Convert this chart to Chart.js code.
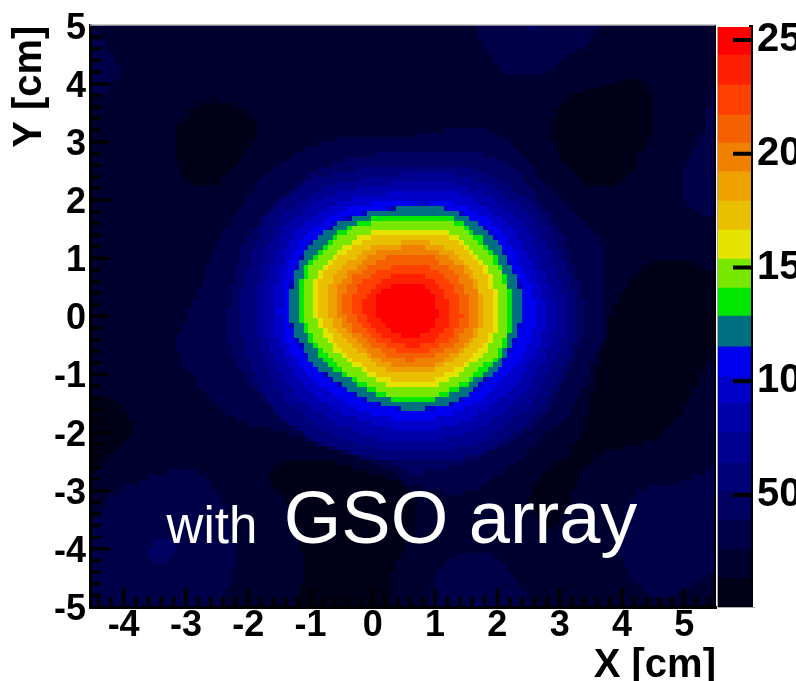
<!DOCTYPE html>
<html>
<head>
<meta charset="utf-8">
<script src="https://cdn.jsdelivr.net/npm/chart.js@4/dist/chart.umd.js"></script>
<style>
	html, body { margin: 0; padding: 0; background: #fff; overflow: hidden; }
	canvas { position: absolute; }
	#heat { left: 90px; top: 25px; image-rendering: pixelated; }
	#frame { left: 0; top: 0; }
	#zbar { left: 700px; top: 0; }
</style>
</head>
<body>
<canvas id="heat" width="626" height="582"></canvas>
<canvas id="frame" width="796" height="681"></canvas>
<canvas id="zbar" width="96" height="681"></canvas>
<script>
// colour levels, lowest first, and where each one starts on the z axis
const levelColors = ['#000018', '#000030', '#000048', '#000060', '#000078', '#000090', '#0000a8', '#0000c8', '#0000f0', '#007080',
	'#00e800', '#78e800', '#e4e400', '#e8c000', '#eea000', '#f08000', '#f56000', '#ff4000', '#ff2000', '#ff0000'];
const levelEdges = [0.8, 13.5, 26.3, 39.0, 51.3, 64.1, 77.3, 90.4, 101.9, 115.1, 128.7, 141.0, 153.7, 166.5, 179.2, 192.0, 204.7, 217.0, 230.2, 243.4, 255.7];

const xTicks = [-4, -3, -2, -1, 0, 1, 2, 3, 4, 5];
const yTicks = [-5, -4, -3, -2, -1, 0, 1, 2, 3, 4, 5];
const zTicks = [50, 100, 150, 200, 250];

// level contours, in cm
const bgX = [-4.54, 5.51, 5.51, -4.54];
const bgY = [5, 5, -5, -5];

const dark1X = [-2.57, -2.13, -1.89, -1.89, -2.13, -2.34, -2.50, -2.89, -3.05, -3.13, -3.13, -2.94];
const dark1Y = [3.71, 3.59, 3.32, 3.08, 2.73, 2.51, 2.25, 2.25, 2.51, 2.73, 3.20, 3.57];
const dark2X = [4.17, 4.37, 4.48, 4.48, 4.29, 4.17, 3.92, 3.68, 3.37, 3.11, 2.92, 2.91, 3.11, 3.52, 3.96];
const dark2Y = [4.11, 4.00, 3.80, 3.16, 2.80, 2.51, 2.25, 2.25, 2.34, 2.63, 2.97, 3.42, 3.71, 3.93, 4.05];
const dark3X = [5.51, 5.09, 4.61, 4.33, 4.08, 3.85, 3.76, 3.61, 3.45, 3.16, 2.84, 2.52, 2.52, 2.76, 2.95, 3.16, 3.27, 3.60, 4.17, 4.65, 5.04, 5.25, 5.51];
const dark3Y = [0.76, 0.96, 1.00, 0.82, 0.50, 0.10, -0.24, -0.84, -1.67, -2.30, -2.59, -2.99, -3.25, -3.52, -3.56, -3.11, -2.77, -2.35, -2.18, -2.01, -1.44, -1.05, -0.58];
const dark4X = [-4.54, -4.22, -3.98, -3.85, -3.85, -4.22, -4.38, -4.54];
const dark4Y = [-1.31, -1.36, -1.56, -1.79, -2.01, -2.35, -2.53, -2.70];
const dark5X = [-1.62, -1.33, -0.69, -0.05, 0.51, 0.66, 0.66, 0.43, 0.27, 0.22, -1.12, -1.12, -1.25, -1.38, -1.62];
const dark5Y = [-2.53, -2.44, -2.44, -2.65, -2.85, -3.16, -3.68, -4.07, -4.54, -5, -5, -4.19, -3.51, -3.16, -2.87];

const lowLeftX = [-4.54, -4.38, -4.22, -3.85, -3.47, -3.05, -2.73, -2.49, -2.25, -2.18, -2.30, -2.41, -4.54];
const lowLeftY = [-3.51, -3.28, -3.04, -2.82, -2.68, -2.59, -2.68, -2.99, -3.63, -4.07, -4.48, -5, -5];
const lowLeftCoreX = [-3.50, -3.23, -3.15, -3.23, -3.50, -3.61];
const lowLeftCoreY = [-3.73, -3.73, -3.93, -4.12, -4.16, -3.99];
const lowMidX = [0.96, 1.19, 1.40, 1.88, 2.15, 2.41, 2.57, 0.91];
const lowMidY = [-4.48, -4.14, -4.02, -4.02, -4.24, -4.66, -5, -5];
const lowMidCoreX = [1.61, 1.83, 1.83, 1.61];
const lowMidCoreY = [-4.83, -4.83, -5, -5];
const lowRightX = [5.51, 5.20, 4.82, 4.40, 4.08, 3.96, 4.24, 4.56, 4.98, 5.51];
const lowRightY = [-2.51, -2.70, -2.85, -2.90, -3.16, -3.97, -4.54, -4.76, -4.67, -4.31];
const topMidX = [1.64, 1.77, 2.04, 2.15, 2.73, 3.05, 3.37, 3.68];
const topMidY = [5, 4.62, 4.28, 4.18, 4.18, 4.40, 4.60, 5];
const topMidCoreX = [2.49, 2.65, 2.65, 2.49];
const topMidCoreY = [5, 5, 4.88, 4.88];
const topLeftX = [-4.54, -4.38, -4.27, -4.17, -4.06, -4.17, -4.22, -4.54];
const topLeftY = [4.95, 4.86, 4.62, 4.45, 4.19, 4.05, 3.88, 3.85];
const rightX = [5.51, 5.41, 5.38, 5.25, 5.01, 4.93, 5.01, 5.25, 5.51];
const rightY = [3.93, 3.93, 3.32, 3.08, 2.63, 2.22, 1.99, 1.79, 1.70];

const level2X = [-0.37, 0.39, 1.35, 1.77, 2.09, 2.41, 2.73, 3.05, 3.37, 3.68, 3.69, 3.76, 3.60, 3.43, 3.16, 2.79, 2.36, 1.88, 1.35, 0.64, 0.27, -0.16, -0.80, -1.38, -2.02, -2.46, -2.78, -3.05, -3.13, -3.05, -2.94, -2.74, -2.62, -2.46, -2.25, -1.97, -1.77, -1.44, -1.17, -0.80];
const level2Y = [3.08, 3.09, 3.23, 3.23, 3.11, 2.80, 2.39, 1.99, 1.65, 1.31, 0.50, -0.19, -0.58, -1.05, -1.62, -2.01, -2.42, -2.77, -2.99, -2.85, -2.59, -2.42, -2.18, -1.96, -1.79, -1.56, -1.15, -0.76, -0.36, -0.19, 0.15, 0.57, 0.96, 1.36, 1.70, 2.11, 2.42, 2.65, 2.85, 2.99];
const level3X = [0.43, 1.67, 2.20, 2.63, 3.05, 3.27, 3.43, 3.27, 3.05, 2.79, 2.36, 1.88, 1.28, 0.64, 0.27, -0.26, -0.80, -1.38, -2.02, -2.25, -2.34, -2.30, -2.18, -2.09, -1.65, -1.38, -1.06, -0.69, -0.37];
const level3Y = [2.85, 2.82, 2.63, 2.11, 1.43, 0.74, -0.07, -0.58, -1.10, -1.62, -2.01, -2.30, -2.53, -2.65, -2.46, -2.25, -2.01, -1.74, -1.05, -0.64, -0.27, 0.40, 0.84, 1.25, 1.87, 2.13, 2.42, 2.63, 2.73];
const level4X = [0.59, 1.40, 1.96, 2.41, 2.76, 3.19, 3.27, 3.13, 2.65, 1.86, 1.35, 0.75, 0.03, -0.93, -1.61, -2.04, -2.10, -2.07, -1.72, -1.36, -0.85, -0.13];
const level4Y = [2.63, 2.59, 2.41, 2.08, 1.68, 0.58, -0.10, -0.69, -1.62, -2.25, -2.41, -2.44, -2.41, -2.08, -1.53, -0.58, 0, 0.62, 1.68, 2.08, 2.42, 2.59];
const level5X = [0.59, 1.32, 1.83, 2.26, 2.60, 3.02, 3.11, 2.99, 2.54, 1.80, 1.32, 0.75, 0.11, -0.77, -1.41, -1.81, -1.88, -1.86, -1.56, -1.24, -0.77, -0.05];
const level5Y = [2.47, 2.46, 2.29, 1.99, 1.62, 0.58, -0.07, -0.58, -1.44, -2.06, -2.22, -2.27, -2.23, -1.91, -1.37, -0.52, 0, 0.58, 1.58, 1.92, 2.23, 2.42];
const level6X = [0.59, 1.24, 1.69, 2.12, 2.44, 2.84, 2.95, 2.84, 2.42, 1.72, 1.27, 0.75, 0.19, -0.64, -1.27, -1.67, -1.73, -1.72, -1.43, -1.12, -0.69, -0.05];
const level6Y = [2.32, 2.30, 2.16, 1.89, 1.55, 0.58, -0.03, -0.50, -1.29, -1.87, -2.03, -2.10, -2.06, -1.75, -1.25, -0.46, 0, 0.53, 1.48, 1.80, 2.10, 2.27];
const level7X = [0.59, 1.16, 1.56, 1.97, 2.30, 2.68, 2.79, 2.70, 2.31, 1.65, 1.24, 0.75, 0.27, -0.50, -1.12, -1.52, -1.59, -1.57, -1.30, -1.01, -0.61, -0.05];
const level7Y = [2.17, 2.17, 2.05, 1.79, 1.44, 0.58, 0.02, -0.41, -1.13, -1.68, -1.86, -1.92, -1.89, -1.62, -1.13, -0.41, 0, 0.48, 1.37, 1.68, 1.96, 2.11];
const level8X = [0.59, 1.08, 1.43, 1.85, 2.17, 2.50, 2.62, 2.54, 2.20, 1.59, 1.20, 0.75, 0.35, -0.37, -0.98, -1.40, -1.46, -1.44, -1.20, -0.91, -0.56, -0.05];
const level8Y = [2.03, 2.03, 1.92, 1.68, 1.34, 0.62, 0.10, -0.33, -0.96, -1.49, -1.68, -1.75, -1.74, -1.48, -1.01, -0.38, 0, 0.45, 1.27, 1.56, 1.82, 1.96];
const level9X = [0.55, 1.00, 1.32, 1.72, 2.04, 2.33, 2.41, 2.33, 2.09, 1.56, 1.19, 0.75, 0.48, -0.24, -0.85, -1.25, -1.33, -1.33, -1.11, -0.80, -0.48, 0];
const level9Y = [1.92, 1.92, 1.82, 1.60, 1.25, 0.65, 0.19, -0.19, -0.76, -1.27, -1.49, -1.56, -1.56, -1.32, -0.89, -0.29, 0, 0.45, 1.13, 1.43, 1.68, 1.82];
const level10X = [0.59, 1.03, 1.36, 1.65, 1.93, 2.10, 2.20, 2.25, 2.20, 2.05, 1.85, 1.49, 1.08, 0.67, 0.19, -0.18, -0.79, -1.12, -1.17, -1.16, -1.01, -0.72, -0.40, 0.05];
const level10Y = [1.77, 1.75, 1.67, 1.46, 1.15, 0.86, 0.53, 0.10, -0.27, -0.62, -0.88, -1.15, -1.37, -1.43, -1.36, -1.17, -0.72, -0.15, 0.19, 0.62, 1.01, 1.31, 1.56, 1.72];
const level11X = [0.59, 1.03, 1.33, 1.62, 1.88, 2.04, 2.15, 2.20, 2.15, 2.01, 1.78, 1.46, 1.04, 0.67, 0.22, -0.14, -0.72, -1.06, -1.11, -1.09, -0.95, -0.66, -0.35, 0.08];
const level11Y = [1.70, 1.68, 1.62, 1.39, 1.10, 0.82, 0.50, 0.10, -0.24, -0.58, -0.82, -1.08, -1.31, -1.36, -1.29, -1.12, -0.67, -0.12, 0.19, 0.58, 0.96, 1.25, 1.51, 1.67];
const level12X = [0.59, 0.96, 1.27, 1.52, 1.75, 1.89, 1.99, 2.04, 1.99, 1.86, 1.67, 1.38, 1.01, 0.67, 0.27, -0.06, -0.59, -0.91, -0.96, -0.95, -0.82, -0.56, -0.27, 0.14];
const level12Y = [1.53, 1.51, 1.44, 1.25, 1.00, 0.74, 0.43, 0.07, -0.21, -0.48, -0.72, -0.96, -1.15, -1.20, -1.15, -0.98, -0.57, -0.07, 0.19, 0.53, 0.88, 1.13, 1.36, 1.49];
const level13X = [0.59, 0.93, 1.22, 1.48, 1.69, 1.83, 1.91, 1.96, 1.91, 1.80, 1.61, 1.33, 0.98, 0.67, 0.30, -0.02, -0.51, -0.83, -0.88, -0.87, -0.74, -0.50, -0.21, 0.18];
const level13Y = [1.46, 1.44, 1.37, 1.19, 0.95, 0.70, 0.40, 0.07, -0.17, -0.43, -0.65, -0.89, -1.07, -1.12, -1.07, -0.91, -0.52, -0.03, 0.19, 0.50, 0.82, 1.07, 1.29, 1.43];
const level14X = [0.59, 0.91, 1.14, 1.36, 1.56, 1.69, 1.75, 1.78, 1.73, 1.62, 1.44, 1.22, 0.91, 0.63, 0.32, 0.05, -0.40, -0.69, -0.72, -0.71, -0.59, -0.37, -0.11, 0.24];
const level14Y = [1.31, 1.29, 1.20, 1.05, 0.84, 0.62, 0.34, 0.07, -0.17, -0.38, -0.58, -0.77, -0.91, -0.96, -0.93, -0.77, -0.41, 0, 0.22, 0.48, 0.76, 0.98, 1.17, 1.27];
const level15X = [0.59, 0.88, 1.11, 1.32, 1.49, 1.62, 1.69, 1.72, 1.67, 1.56, 1.40, 1.17, 0.88, 0.63, 0.35, 0.11, -0.30, -0.55, -0.58, -0.56, -0.45, -0.24, -0.02, 0.30];
const level15Y = [1.22, 1.20, 1.13, 0.98, 0.79, 0.57, 0.31, 0.07, -0.15, -0.34, -0.53, -0.70, -0.84, -0.88, -0.84, -0.70, -0.36, 0.03, 0.22, 0.45, 0.70, 0.91, 1.08, 1.19];
const level16X = [0.59, 0.83, 1.04, 1.22, 1.38, 1.48, 1.54, 1.56, 1.51, 1.41, 1.27, 1.08, 0.83, 0.59, 0.37, 0.16, -0.03, -0.21, -0.37, -0.45, -0.48, -0.45, -0.35, -0.16, 0.05, 0.34];
const level16Y = [1.08, 1.07, 1.00, 0.86, 0.69, 0.48, 0.27, 0.05, -0.14, -0.31, -0.46, -0.60, -0.69, -0.72, -0.69, -0.58, -0.45, -0.29, -0.12, 0.05, 0.22, 0.45, 0.65, 0.82, 0.98, 1.05];
const level17X = [0.59, 0.80, 0.98, 1.14, 1.27, 1.36, 1.41, 1.43, 1.38, 1.28, 1.16, 0.98, 0.79, 0.59, 0.39, 0.21, 0.03, -0.13, -0.24, -0.30, -0.32, -0.29, -0.19, -0.03, 0.14, 0.37];
const level17Y = [0.91, 0.89, 0.82, 0.70, 0.55, 0.38, 0.19, 0.02, -0.14, -0.29, -0.41, -0.50, -0.57, -0.58, -0.55, -0.46, -0.36, -0.22, -0.07, 0.09, 0.24, 0.43, 0.58, 0.72, 0.82, 0.89];
const level18X = [0.59, 0.79, 0.93, 1.04, 1.16, 1.22, 1.25, 1.25, 1.20, 1.11, 0.98, 0.82, 0.63, 0.43, 0.27, 0.11, -0.02, -0.11, -0.16, -0.13, -0.03, 0.11, 0.30];
const level18Y = [0.74, 0.72, 0.65, 0.55, 0.43, 0.27, 0.10, -0.03, -0.17, -0.29, -0.38, -0.45, -0.48, -0.45, -0.38, -0.27, -0.14, 0, 0.15, 0.34, 0.48, 0.60, 0.70];
const level19X = [0.47, 0.75, 0.88, 1.00, 1.04, 1.09, 1.01, 0.87, 0.69, 0.51, 0.30, 0.16, 0.06, 0.06, 0.14, 0.30];
const level19Y = [0.58, 0.58, 0.48, 0.33, 0.17, 0.10, -0.07, -0.24, -0.33, -0.33, -0.21, -0.05, 0.07, 0.27, 0.46, 0.55];

// painted in this order, later ones cover earlier ones
const contours = [
	[1, bgX, bgY],
	[0, dark1X, dark1Y], [0, dark2X, dark2Y], [0, dark3X, dark3Y], [0, dark4X, dark4Y], [0, dark5X, dark5Y],
	[2, lowLeftX, lowLeftY], [3, lowLeftCoreX, lowLeftCoreY],
	[2, lowMidX, lowMidY], [3, lowMidCoreX, lowMidCoreY],
	[2, lowRightX, lowRightY],
	[2, topMidX, topMidY], [3, topMidCoreX, topMidCoreY],
	[2, topLeftX, topLeftY], [2, rightX, rightY],
	[2, level2X, level2Y], [3, level3X, level3Y], [4, level4X, level4Y], [5, level5X, level5Y],
	[6, level6X, level6Y], [7, level7X, level7Y], [8, level8X, level8Y], [9, level9X, level9Y],
	[10, level10X, level10Y], [11, level11X, level11Y], [12, level12X, level12Y], [13, level13X, level13Y],
	[14, level14X, level14Y], [15, level15X, level15Y], [16, level16X, level16Y], [17, level17X, level17Y],
	[18, level18X, level18Y], [19, level19X, level19Y],
];

const xRange = [-4.54, 5.51];
const yRange = [-5, 5];
const boldFont = { family: 'Liberation Sans', size: 36, weight: 'bold' };
const titleFont = { family: 'Liberation Sans', size: 40, weight: 'bold' };

Chart.defaults.animation = false;
Chart.defaults.responsive = false;
Chart.defaults.plugins.legend.display = false;
Chart.defaults.plugins.tooltip.enabled = false;

// fill edges get anti-aliased, put every bin back on one of the palette colours
const snapToLevels = {
	id: 'snapToLevels',
	afterDraw(chart) {
		const palette = levelColors.map(c => [1, 3, 5].map(i => parseInt(c.substr(i, 2), 16)));
		const img = chart.ctx.getImageData(0, 0, chart.canvas.width, chart.canvas.height);
		const d = img.data;
		for (let i = 0; i < d.length; i += 4) {
			let best = palette[0], bestDist = Infinity;
			palette.forEach(p => {
				const dist = (p[0] - d[i]) ** 2 + (p[1] - d[i + 1]) ** 2 + (p[2] - d[i + 2]) ** 2;
				if (dist < bestDist) { bestDist = dist; best = p; }
			});
			d[i] = best[0]; d[i + 1] = best[1]; d[i + 2] = best[2]; d[i + 3] = 255;
		}
		chart.ctx.putImageData(img, 0, 0);
	}
};

// the map itself, drawn small and blown up so it keeps the histogram's square bins
new Chart(document.getElementById('heat'), {
	type: 'scatter',
	data: {
		datasets: contours.map((c, i) => ({
			data: c[1].map((x, j) => ({ x: x, y: c[2][j] })),
			order: -i, // chart.js paints high order first
			showLine: true,
			fill: 'shape',
			tension: 0.3,
			borderWidth: 0,
			pointRadius: 0,
			backgroundColor: levelColors[c[0]],
		}))
	},
	plugins: [snapToLevels],
	options: {
		devicePixelRatio: 0.206,
		scales: {
			x: { display: false, min: xRange[0], max: xRange[1] },
			y: { display: false, min: yRange[0], max: yRange[1] },
		},
	},
});

const innerTicks = {
	id: 'innerTicks',
	afterDraw(chart) {
		const { ctx, chartArea: a, scales: { x, y } } = chart;
		ctx.save();
		ctx.strokeStyle = '#000';
		ctx.lineWidth = 3.5;
		ctx.beginPath();
		for (let v = -4.4; v < 5.5; v += 0.2) {
			const major = Math.abs(v - Math.round(v)) < 0.01;
			const px = x.getPixelForValue(v);
			ctx.moveTo(px, a.bottom);
			ctx.lineTo(px, a.bottom - (major ? 19 : 10));
		}
		for (let v = -4.8; v < 5; v += 0.2) {
			const major = Math.abs(v - Math.round(v)) < 0.01;
			const py = y.getPixelForValue(v);
			ctx.moveTo(a.left, py);
			ctx.lineTo(a.left + (major ? 20 : 11), py);
		}
		ctx.stroke();
		ctx.strokeStyle = '#b8b8b8';
		ctx.lineWidth = 1.5;
		ctx.beginPath();
		ctx.moveTo(a.left, a.top - 0.5);
		ctx.lineTo(a.right, a.top - 0.5);
		ctx.stroke();
		ctx.strokeStyle = '#000';
		ctx.lineWidth = 2;
		ctx.beginPath();
		ctx.moveTo(a.right - 1, a.top);
		ctx.lineTo(a.right - 1, a.bottom);
		ctx.stroke();

		ctx.fillStyle = '#fff';
		ctx.textBaseline = 'alphabetic';
		ctx.textAlign = 'left';
		ctx.font = '51px "Liberation Sans"';
		ctx.fillText('with', x.getPixelForValue(-3.31), y.getPixelForValue(-3.9));
		ctx.font = '74px "Liberation Sans"';
		ctx.fillText('GSO array', x.getPixelForValue(-1.43), y.getPixelForValue(-3.9));
		ctx.restore();
	}
};

new Chart(document.getElementById('frame'), {
	type: 'scatter',
	data: { datasets: [{ data: [] }] },
	plugins: [innerTicks],
	options: {
		layout: { padding: { top: 25, right: 80, left: 0, bottom: 0 } },
		scales: {
			x: {
				min: xRange[0],
				max: xRange[1],
				afterBuildTicks: axis => { axis.ticks = xTicks.map(v => ({ value: v })); },
				afterFit: axis => { axis.height = 74; },
				grid: { display: false, drawTicks: false },
				border: { display: true, color: '#000', width: 3 },
				ticks: { color: '#000', font: boldFont, padding: -3, maxRotation: 0, autoSkip: false },
				title: { display: true, text: 'X [cm]', align: 'end', color: '#000', font: titleFont, padding: { top: 0, bottom: -9 } },
			},
			y: {
				min: yRange[0],
				max: yRange[1],
				afterBuildTicks: axis => { axis.ticks = yTicks.map(v => ({ value: v })); },
				afterFit: axis => { axis.width = 90; },
				grid: { display: false, drawTicks: false },
				border: { display: true, color: '#000', width: 3 },
				ticks: { color: '#000', font: boldFont, padding: 4, labelOffset: 3, autoSkip: false },
				title: { display: true, text: 'Y [cm]', align: 'end', color: '#000', font: titleFont, padding: { top: 6, bottom: 0 } },
			},
		},
	},
});

const zbarFrame = {
	id: 'zbarFrame',
	afterDraw(chart) {
		const { ctx, chartArea: a, scales: { y } } = chart;
		ctx.save();
		ctx.strokeStyle = '#000';
		ctx.lineWidth = 4;
		ctx.beginPath();
		zTicks.forEach(v => {
			const py = y.getPixelForValue(v);
			ctx.moveTo(a.right - 18, py);
			ctx.lineTo(a.right, py);
		});
		ctx.stroke();
		ctx.strokeStyle = '#a8a8a8';
		ctx.lineWidth = 1;
		ctx.beginPath();
		ctx.moveTo(a.left - 0.5, a.top);
		ctx.lineTo(a.left - 0.5, a.bottom + 0.5);
		ctx.lineTo(a.right + 4, a.bottom + 0.5);
		ctx.stroke();
		ctx.restore();
	}
};

new Chart(document.getElementById('zbar'), {
	type: 'bar',
	data: {
		labels: [''],
		datasets: levelColors.map((col, i) => ({
			data: [[levelEdges[i], levelEdges[i + 1]]],
			backgroundColor: col,
			borderWidth: 0,
			barPercentage: 1,
			categoryPercentage: 1,
			grouped: false,
		}))
	},
	plugins: [zbarFrame],
	options: {
		layout: { padding: { top: 27, left: 18, right: 0, bottom: 74 } },
		scales: {
			x: { display: false },
			y: {
				position: 'right',
				min: levelEdges[0],
				max: levelEdges[levelEdges.length - 1],
				afterBuildTicks: axis => { axis.ticks = zTicks.map(v => ({ value: v })); },
				afterFit: axis => { axis.width = 45; axis.paddingTop = 0; axis.paddingBottom = 0; },
				grid: { display: false, drawTicks: false },
				border: { display: true, color: '#000', width: 4 },
				ticks: { color: '#000', font: titleFont, padding: 6, autoSkip: false },
			},
		},
	},
});
</script>
</body>
</html>
